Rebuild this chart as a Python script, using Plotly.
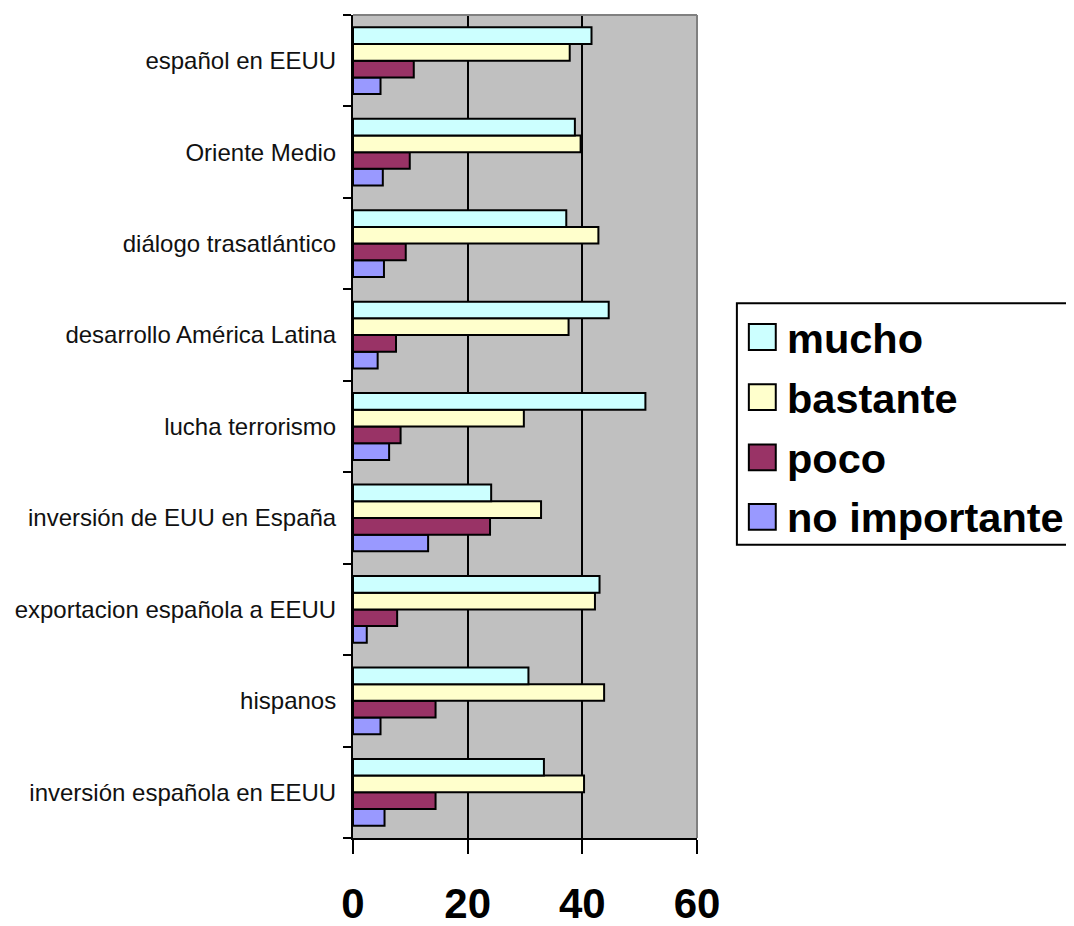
import plotly.graph_objects as go

categories = [
    "inversión española en EEUU",
    "hispanos",
    "exportacion española a EEUU",
    "inversión de EUU en España",
    "lucha terrorismo",
    "desarrollo América Latina",
    "diálogo trasatlántico",
    "Oriente Medio",
    "español en EEUU",
]
mucho = [33.3, 30.6, 43.0, 24.1, 51.0, 44.6, 37.2, 38.7, 41.6]
bastante = [40.3, 43.8, 42.2, 32.8, 29.8, 37.6, 42.8, 39.7, 37.8]
poco = [14.4, 14.4, 7.7, 23.9, 8.3, 7.5, 9.2, 9.9, 10.6]
no_importante = [5.5, 4.8, 2.4, 13.1, 6.3, 4.3, 5.4, 5.2, 4.8]

series_names = ["mucho", "bastante", "poco", "no importante"]
series_values = [mucho, bastante, poco, no_importante]
series_colors = ["#CCFFFF", "#FFFFCC", "#993366", "#9999FF"]

FONT = "Liberation Sans, Arial, sans-serif"

fig = go.Figure()
# add in reverse so "mucho" sits at the top of each group
for name, vals, color in reversed(list(zip(series_names, series_values, series_colors))):
    fig.add_trace(go.Bar(
        y=categories, x=vals, name=name, orientation="h",
        marker=dict(color=color, line=dict(color="black", width=2)),
        showlegend=False,
    ))

# plot-area geometry (pixels, relative to page)
PL, PT, PW, PH = 352, 15, 345, 828


def px(x):
    return (x - PL) / PW


def py(y):
    return (PT + PH - y) / PH


fig.update_layout(
    width=1074, height=926,
    margin=dict(l=PL - 8, r=1074 - (PL - 8) - PW, t=PT - 8, b=926 - (PT - 8) - PH),
    paper_bgcolor="white", plot_bgcolor="#C0C0C0",
    barmode="group", bargap=0.27, bargroupgap=0,
    font=dict(family=FONT, color="black"),
    showlegend=False,
)
fig.update_xaxes(
    range=[0, 60], tickvals=[0, 20, 40, 60],
    showgrid=True, gridcolor="black", gridwidth=2,
    showline=True, linecolor="black", linewidth=2,
    ticks="outside", ticklen=14, tickwidth=2, tickcolor="black",
    tickfont=dict(size=42, weight="bold", color="black"),
    ticklabelstandoff=14,
    zeroline=False, fixedrange=True,
)
fig.update_yaxes(
    categoryorder="array", categoryarray=categories,
    tickson="boundaries", ticks="outside", ticklen=8, tickwidth=2, tickcolor="black",
    showline=True, linecolor="black", linewidth=2,
    showgrid=False,
    tickfont=dict(size=24, color="#111111"),
    ticklabelstandoff=10, fixedrange=True,
)
# grey frame on top and right of plot area
fig.add_shape(type="line", xref="paper", yref="paper", x0=0, x1=1, y0=1, y1=1,
              line=dict(color="#808080", width=2))
fig.add_shape(type="line", xref="paper", yref="paper", x0=1, x1=1, y0=0, y1=1,
              line=dict(color="#808080", width=2))

# legend box (runs off the right edge, as in the original)
fig.add_shape(type="rect", xref="paper", yref="paper",
              x0=px(737), x1=px(1130), y0=py(548), y1=py(305),
              line=dict(color="black", width=2), fillcolor="white", layer="above")
row_y = [339, 399.5, 460, 520]
for name, color, ry in zip(series_names, series_colors, row_y):
    fig.add_shape(type="rect", xref="paper", yref="paper",
                  x0=px(749), x1=px(776), y0=py(ry + 13), y1=py(ry - 13),
                  line=dict(color="black", width=2), fillcolor=color, layer="above")
    fig.add_annotation(xref="paper", yref="paper", x=px(785), y=py(ry + 1),
                       xanchor="left", yanchor="middle", showarrow=False,
                       text=name, font=dict(size=41.5, family=FONT, color="black", weight="bold"))

fig.write_html("out.html")
